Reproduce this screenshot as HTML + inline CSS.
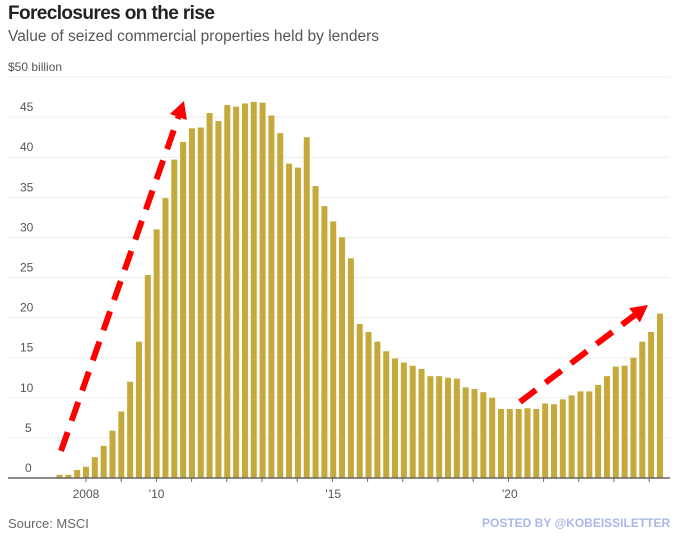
<!DOCTYPE html>
<html><head><meta charset="utf-8"><style>
body{margin:0;background:#fff;width:680px;height:547px;overflow:hidden;font-family:"Liberation Sans",sans-serif}
.t{position:absolute;left:8px;top:3px;font-size:19px;font-weight:bold;color:#222;letter-spacing:-0.6px}
.s{position:absolute;left:8px;top:28px;font-size:15.5px;color:#555}
.src{position:absolute;left:8px;top:516px;font-size:13px;color:#666}
.pb{position:absolute;left:482px;top:516px;font-size:12px;font-weight:bold;color:#a9b8e8}
svg{position:absolute;left:0;top:0}
</style></head><body>
<div class="t">Foreclosures on the rise</div>
<div class="s">Value of seized commercial properties held by lenders</div>
<svg id="c" width="680" height="547"></svg>
<div class="src">Source: MSCI</div>
<div class="pb">POSTED BY @KOBEISSILETTER</div>
<script>
const values=[0.4,0.4,1.0,1.4,2.6,4.0,5.9,8.3,12.0,17.0,25.3,31.0,34.9,39.7,41.9,43.6,43.7,45.5,44.5,46.5,46.3,46.7,46.9,46.8,45.2,43.0,39.2,38.7,42.5,36.4,33.9,32.0,30.0,27.4,19.2,18.2,17.0,15.8,14.9,14.4,14.0,13.6,12.7,12.7,12.5,12.4,11.3,11.1,10.7,10.0,8.6,8.6,8.6,8.7,8.6,9.3,9.2,9.8,10.3,10.8,10.8,11.6,12.7,13.9,14.0,15.0,17.0,18.2,20.5];
const yTicks=[0,5,10,15,20,25,30,35,40,45,50];
const xLabels=["2008","'10","'15","'20"];
const xLabelIdx=[3,11,31,51];
const NS="http://www.w3.org/2000/svg",svg=document.getElementById('c');
const y0=478,ppu=8.02,x0=59.5,step=8.83;
const Y=v=>y0-v*ppu, X=i=>x0+i*step;
function el(t,a){const e=document.createElementNS(NS,t);for(const k in a)e.setAttribute(k,a[k]);svg.appendChild(e);return e;}
yTicks.forEach(v=>{
 const g=el('line',{x1:8,x2:670,y1:Y(v),y2:Y(v),stroke:'#ececec','stroke-width':1});
 
 
 const t=el('text',{x:v===50?8:(v<10?25:20),y:Y(v)-6,'font-size':12,fill:'#555'});
 t.textContent=v===50?'$50 billion':v;
 
 
});
values.forEach((v,i)=>{
 const r=el('rect',{x:X(i)-3,y:Y(v),width:6,height:v*ppu,fill:'#c5a93b'});
 
 
});
const ax=el('line',{x1:8,x2:670,y1:y0,y2:y0,stroke:'#666','stroke-width':1.5});


for(let k=0;k<18;k++){const tx=86+k*35.2;if(tx>668)break;const tk=el('line',{x1:tx,x2:tx,y1:y0,y2:y0+4,stroke:'#666'});
 
 }
xLabels.forEach((l,j)=>{const t=el('text',{x:X(xLabelIdx[j]),y:498,'font-size':12,fill:'#555','text-anchor':'middle'});t.textContent=l;
 
 });
function arrow(x1,y1,x2,y2,name){
 const dx=x2-x1,dy=y2-y1,L=Math.hypot(dx,dy),ux=dx/L,uy=dy/L,h=17;
 const bx=x2-ux*h,by=y2-uy*h;
 const ln=el('line',{x1:x1,y1:y1,x2:bx,y2:by,stroke:'#ff0000','stroke-width':6,'stroke-dasharray':'20 12'});
 
 
 const p=el('polygon',{points:`${x2},${y2} ${bx-uy*9},${by+ux*9} ${bx+uy*9},${by-ux*9}`,fill:'#ff0000'});
 
 
}
arrow(61,451,184,101,'rise-arrow');
arrow(520,402,648,305,'recent-rise-arrow');
</script>
</body></html>
